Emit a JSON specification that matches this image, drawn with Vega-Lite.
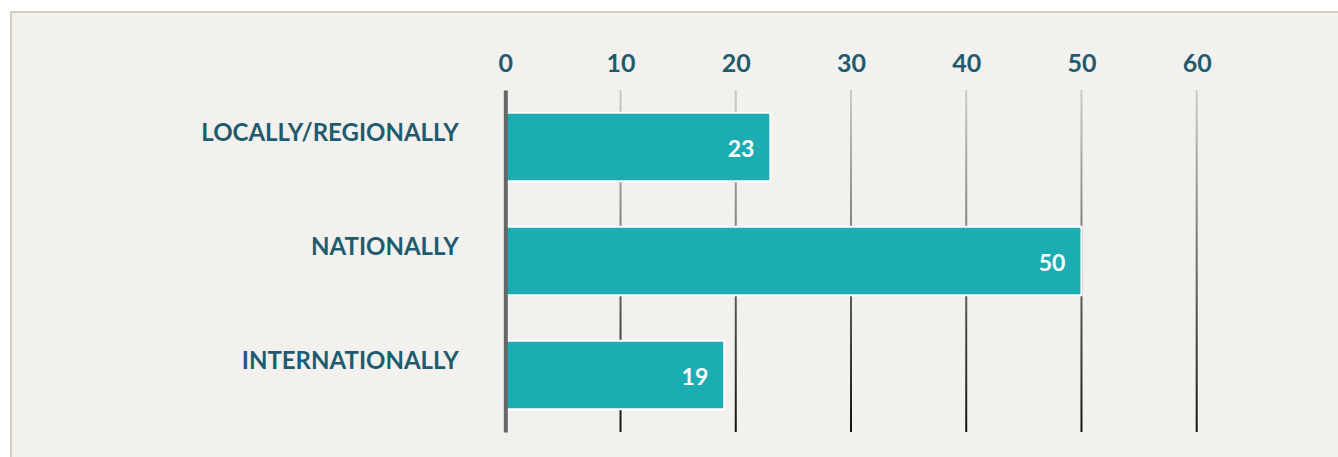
{
  "$schema": "https://vega.github.io/schema/vega-lite/v6.json",
  "autosize": "none",
  "width": 1327,
  "height": 445,
  "padding": {"left": 11, "top": 12, "right": 0, "bottom": 0},
  "background": "#ffffff",
  "config": {
    "view": {"fill": "#f3f1ed", "stroke": "#d6cebf", "strokeWidth": 2, "strokeDash": [1327, 1772, 445]},
    "font": "Lato"
  },
  "data": {"values": [
    {"category": "LOCALLY/REGIONALLY", "value": 23},
    {"category": "NATIONALLY", "value": 50},
    {"category": "INTERNATIONALLY", "value": 19}
  ]},
  "layer": [
    {
      "data": {"values": [
        {"v": 10, "category": "NATIONALLY"}, {"v": 20, "category": "NATIONALLY"}, {"v": 30, "category": "NATIONALLY"},
        {"v": 40, "category": "NATIONALLY"}, {"v": 50, "category": "NATIONALLY"}, {"v": 60, "category": "NATIONALLY"}
      ]},
      "mark": {"type": "tick", "thickness": 2, "size": 342, "opacity": 1,
        "color": {"gradient": "linear", "x1": 0, "y1": 0, "x2": 0, "y2": 1,
          "stops": [{"offset": 0, "color": "#cccccc"}, {"offset": 1, "color": "#111111"}]}},
      "encoding": {
        "x": {"field": "v", "type": "quantitative"},
        "y": {"field": "category", "type": "nominal"}
      }
    },
    {
      "mark": {"type": "bar", "fill": "#1cadb2", "stroke": "#ffffff", "strokeWidth": 2},
      "encoding": {
        "x": {"field": "value", "type": "quantitative",
          "scale": {"domain": [0, 60], "range": [494.3, 1185.7], "nice": false, "zero": true},
          "axis": {"orient": "top", "values": [0, 10, 20, 30, 40, 50, 60], "title": null,
            "domain": false, "ticks": false, "tickSize": 0, "grid": false, "labelFlush": false,
            "offset": -78, "labelPadding": 19, "labelBaseline": "alphabetic",
            "labelFont": "Lato", "labelFontSize": 25, "labelFontWeight": "bold", "labelColor": "#1f5b6f"}},
        "y": {"field": "category", "type": "nominal",
          "scale": {"domain": ["LOCALLY/REGIONALLY", "NATIONALLY", "INTERNATIONALLY"], "range": [78, 420], "paddingInner": 0.4, "paddingOuter": 0.2},
          "axis": {"orient": "left", "title": null, "offset": -494.3, "zindex": 1,
            "domain": true, "domainColor": "#666666", "domainWidth": 4,
            "ticks": false, "tickSize": 0, "grid": false,
            "labelPadding": 47, "labelAlign": "right", "labelBaseline": "alphabetic", "labelOffset": -6,
            "labelFont": "Lato", "labelFontSize": 24, "labelFontWeight": "bold", "labelColor": "#1f5b6f", "labelLimit": 0}}
      }
    },
    {
      "mark": {"type": "text", "align": "right", "baseline": "alphabetic", "dx": -16, "dy": 9.5,
        "font": "Lato", "fontSize": 23, "fontWeight": "bold", "fill": "#ffffff"},
      "encoding": {
        "x": {"field": "value", "type": "quantitative"},
        "y": {"field": "category", "type": "nominal"},
        "text": {"field": "value", "type": "quantitative"}
      }
    }
  ]
}
